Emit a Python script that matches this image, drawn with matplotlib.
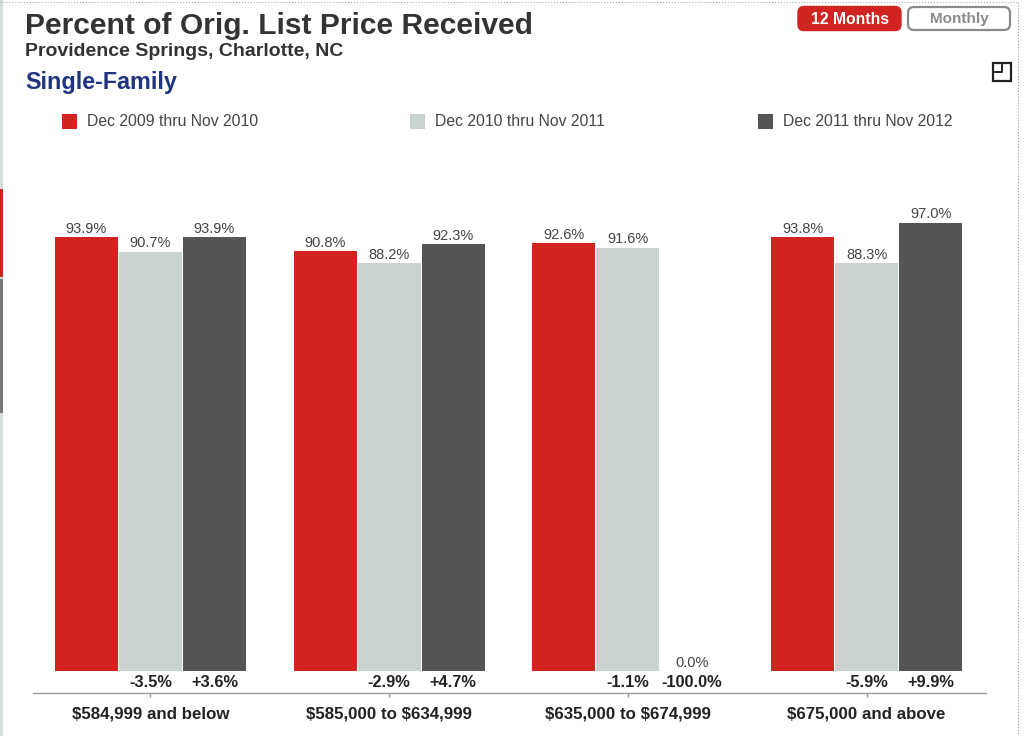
import matplotlib
matplotlib.use("Agg")
import matplotlib.pyplot as plt
import numpy as np
from matplotlib.lines import Line2D
from matplotlib.patches import FancyBboxPatch, Rectangle

plt.rcParams["font.family"] = ["Liberation Sans", "DejaVu Sans"]
plt.rcParams["text.parse_math"] = False

# Data
categories = ["$584,999 and below", "$585,000 to $634,999",
              "$635,000 to $674,999", "$675,000 and above"]
series_names = ["Dec 2009 thru Nov 2010", "Dec 2010 thru Nov 2011", "Dec 2011 thru Nov 2012"]
values_2010 = [93.9, 90.8, 92.6, 93.8]
values_2011 = [90.7, 88.2, 91.6, 88.3]
values_2012 = [93.9, 92.3, 0.0, 97.0]
change_2011 = ["-3.5%", "-2.9%", "-1.1%", "-5.9%"]
change_2012 = ["+3.6%", "+4.7%", "-100.0%", "+9.9%"]

colors = ["#d12320", "#c8d2ce", "#555555"]
W, H = 1024, 736


def fx(px):
    return px / W


def fy(py):
    return 1 - py / H


fig = plt.figure(figsize=(W / 100, H / 100), dpi=100)

# Main axes, left 33 to 986 px, axis line at y=693
ax = fig.add_axes([fx(33), fy(693), (986 - 33) / W, (693 - 140) / H])
ax.set_xlim(-0.492, 3.5)
ax.set_ylim(-4.65, (671.5 - 140) / 4.627)
ax.patch.set_alpha(0)

x = np.arange(len(categories))
bar_w = 0.268
all_series = [values_2010, values_2011, values_2012]
for i, vals in enumerate(all_series):
    pos = x + (i - 1) * bar_w
    ax.bar(pos, vals, width=bar_w - 0.004, color=colors[i], linewidth=0)
    for p, v in zip(pos, vals):
        ax.annotate(f"{v:.1f}%", (p, v), xytext=(0, 1), textcoords="offset points",
                    ha="center", va="bottom", fontsize=10.5, color="#444444")

for i, labels in enumerate([change_2011, change_2012]):
    for p, t in zip(x + i * bar_w, labels):
        ax.text(p, -2.45, t, ha="center", va="center", fontsize=11.8,
                fontweight="bold", color="#222222")

for s in ["top", "left", "right"]:
    ax.spines[s].set_visible(False)
ax.spines["bottom"].set_color("#999999")
ax.spines["bottom"].set_linewidth(1)
ax.set_yticks([])
ax.set_xticks(x)
ax.set_xticklabels(categories, fontsize=12.2, fontweight="bold", color="#222222")
ax.tick_params(axis="x", length=3, width=1, color="#999999", pad=7)

# Heading
fig.text(fx(25), fy(26), "Percent of Orig. List Price Received", fontsize=21.6,
         fontweight="bold", color="#333333", va="center")
fig.text(fx(25), fy(51.5), "Providence Springs, Charlotte, NC", fontsize=14,
         fontweight="bold", color="#333333", va="center")
fig.text(fx(25), fy(82), "Single-Family", fontsize=16.8,
         fontweight="bold", color="#1f3480", va="center")

# Legend
legend_x = [62, 410, 758]
for lx, name, c in zip(legend_x, series_names, colors):
    fig.add_artist(Rectangle((fx(lx), fy(129)), 15 / W, 15 / H, color=c, lw=0,
                             transform=fig.transFigure))
    fig.text(fx(lx + 25), fy(122), name, fontsize=11.35, color="#444444", va="center")

# Buttons, drawn in pixel coordinates
overlay = fig.add_axes([0, 0, 1, 1])
overlay.set_xlim(0, W)
overlay.set_ylim(H, 0)
overlay.axis("off")
overlay.patch.set_alpha(0)
overlay.add_patch(FancyBboxPatch((798, 6.5), 103, 24, boxstyle="round,pad=0,rounding_size=6",
                                 fc="#d12320", ec="#d12320", lw=1))
overlay.text(850, 19, "12 Months", ha="center", va="center", fontsize=11.3,
             fontweight="bold", color="white")
overlay.add_patch(FancyBboxPatch((908, 7), 102, 23, boxstyle="round,pad=0,rounding_size=6",
                                 fc="white", ec="#8a8a8a", lw=1.6))
overlay.text(959, 19, "Monthly", ha="center", va="center", fontsize=11,
             fontweight="bold", color="#8a8a8a")

# Expand icon
overlay.add_patch(Rectangle((993, 63), 18, 18, fc="none", ec="#222222", lw=1.6))
overlay.add_artist(Line2D([993, 1002, 1002], [72, 72, 63], color="#222222", lw=1.4))

# Frame remains around the screenshot
overlay.add_artist(Line2D([0, 1018], [2, 2], color="#aaaaaa", lw=0.8, ls=":"))
overlay.add_artist(Line2D([1018, 1018], [2, 736], color="#999999", lw=0.8, ls=":"))
overlay.add_patch(Rectangle((0, 0), 2.5, 736, fc="#d5dcd9", lw=0))
overlay.add_patch(Rectangle((0, 189), 2.5, 88, fc="#d12320", lw=0))
overlay.add_patch(Rectangle((0, 279), 2.5, 134, fc="#777777", lw=0))

fig.savefig("out.png", dpi=100)
